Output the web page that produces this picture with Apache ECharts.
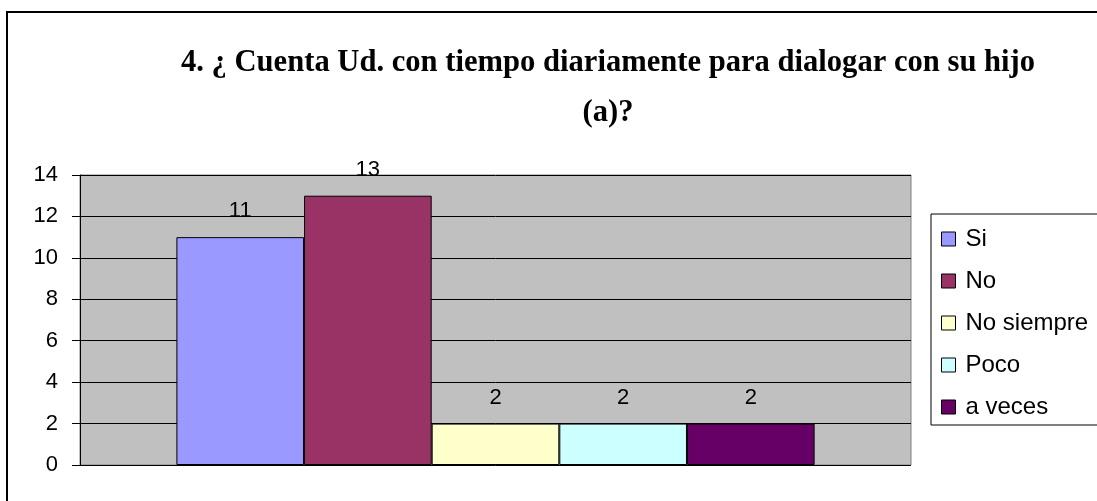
<!DOCTYPE html>
<html>
<head>
<meta charset="utf-8">
<script src="https://cdn.jsdelivr.net/npm/echarts@6/dist/echarts.min.js"></script>
<style>
  html, body { margin: 0; padding: 0; background: #fff; }
  #chart { width: 1097px; height: 501px; }
</style>
</head>
<body>
<div id="chart"></div>
<script>
const seriesNames = ['Si', 'No', 'No siempre', 'Poco', 'a veces']
const seriesValues = [11, 13, 2, 2, 2]
const seriesColors = ['#9999FF', '#993366', '#FFFFCC', '#CCFFFF', '#660066']
const titleText = '4. ¿ Cuenta Ud. con tiempo diariamente para dialogar con su hijo\n(a)?'

const chart = echarts.init(document.getElementById('chart'))
const font = 'Liberation Sans, Arial, sans-serif'

chart.setOption({
  animation: false,
  title: {
    text: titleText,
    left: 603,
    top: 33,
    textAlign: 'center',
    textStyle: {
      fontFamily: 'Liberation Serif, Times New Roman, serif',
      fontWeight: 'bold',
      fontSize: 30.6,
      lineHeight: 50,
      color: '#000',
    },
  },
  graphic: [{
    type: 'rect',
    shape: { x: 7, y: 12, width: 1100, height: 500 },
    style: { fill: 'none', stroke: '#000', lineWidth: 2 },
    silent: true,
  }, {
    // legend frame
    type: 'rect',
    shape: { x: 931, y: 214, width: 200, height: 211 },
    style: { fill: '#fff', stroke: '#000', lineWidth: 1 },
    silent: true,
    z: -1,
  }],
  legend: {
    orient: 'vertical',
    left: 941,
    top: 227,
    itemWidth: 14,
    itemHeight: 14,
    itemGap: 18,
    icon: 'rect',
    padding: 0,
    itemStyle: { borderColor: '#000', borderWidth: 1 },
    textStyle: { fontFamily: font, fontSize: 24, color: '#000', padding: [0, 0, 0, 5] },
    data: seriesNames,
  },
  grid: {
    left: 80, top: 175, right: 186, bottom: 36,
    show: true,
    backgroundColor: '#C0C0C0',
    borderColor: '#808080',
    borderWidth: 1,
  },
  xAxis: {
    type: 'category',
    data: [''],
    axisLine: { show: false },
    axisTick: { show: false },
    axisLabel: { show: false },
  },
  yAxis: {
    type: 'value',
    min: 0, max: 14, interval: 2,
    axisLine: { show: true, lineStyle: { color: '#000', width: 1 } },
    axisTick: { show: true, length: 8, lineStyle: { color: '#000' } },
    axisLabel: { fontFamily: font, fontSize: 22, color: '#000', margin: 22 },
    splitLine: { lineStyle: { color: '#000', width: 1 } },
  },
  series: seriesNames.map((name, i) => ({
    name,
    type: 'bar',
    data: [seriesValues[i]],
    barGap: '0%',
    barCategoryGap: '23.2%',
    itemStyle: { color: seriesColors[i], borderColor: '#000', borderWidth: 1 },
    label: {
      show: true,
      position: 'top',
      distance: 15,
      fontFamily: font,
      fontSize: 22,
      color: '#000',
    },
  })),
})
</script>
</body>
</html>
